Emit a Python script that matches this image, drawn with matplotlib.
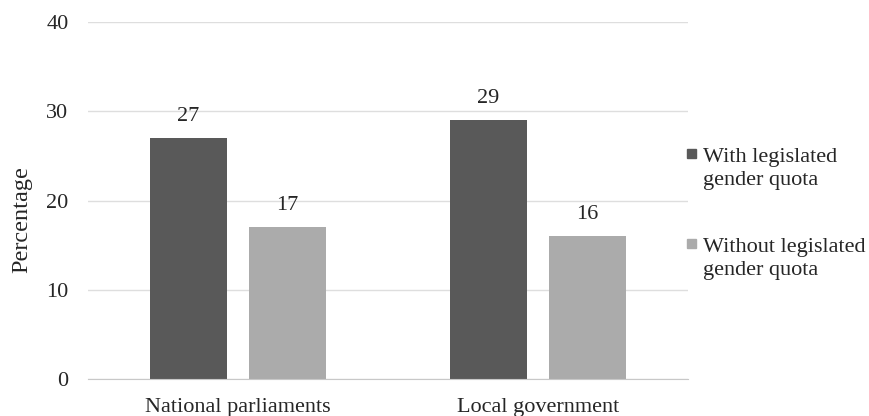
import matplotlib
matplotlib.use("Agg")
import matplotlib.pyplot as plt
import numpy as np
from matplotlib.patches import Rectangle

categories = ["National parliaments", "Local government"]
series_names = ["With legislated\ngender quota", "Without legislated\ngender quota"]
with_quota = [27, 29]
without_quota = [17, 16]
yticks = [0, 10, 20, 30, 40]

colors = ["#595959", "#ababab"]
txt = '#262626'

plt.rcParams['font.family'] = ['Liberation Serif', 'DejaVu Serif']

fig = plt.figure(figsize=(8.69, 4.16), dpi=100)
ax = fig.add_axes([88/869, 1-379/416, 600/869, 357/416])

x = np.arange(len(categories))
w = 0.257
off = 0.165
series = [with_quota, without_quota]
for i, vals in enumerate(series):
    pos = x + (off if i else -off)
    bars = ax.bar(pos, vals, width=w, color=colors[i], zorder=3)
    for b, v in zip(bars, vals):
        ax.annotate(str(v), (b.get_x()+b.get_width()/2, v), xytext=(0, 9),
                    textcoords='offset points', ha='center', va='bottom', fontsize=16,
                    color=txt)

ax.set_xlim(-0.5, 1.5)
ax.set_ylim(0, 40)
ax.set_yticks(yticks)
ax.set_xticks(x)
ax.set_xticklabels(categories, fontsize=16, color=txt)
ax.tick_params(axis='y', labelsize=16, length=0, pad=14, labelcolor=txt)
ax.tick_params(axis='x', length=0, pad=13.5)
ax.grid(axis='y', color='#dedede', linewidth=1, zorder=0)
for s in ['top', 'right', 'left']:
    ax.spines[s].set_visible(False)
ax.spines['bottom'].set_color('#c8c8c8')
ax.spines['bottom'].set_zorder(4)
ax.set_ylabel("Percentage", fontsize=17.5, color=txt)
ax.yaxis.label.set_va('center')
ax.yaxis.set_label_coords((22-88)/600, (379-220)/357)

# legend drawn manually
leg_base = [162, 252]
line_gap = 23.5
for i, name in enumerate(series_names):
    yb = leg_base[i]
    fig.patches.append(Rectangle((687/869, 1 - (yb - 4)/416), 9/869, 9/416,
                                 transform=fig.transFigure, color=colors[i]))
    for j, line in enumerate(name.split("\n")):
        fig.text(703/869, 1 - (yb + j*line_gap)/416, line, fontsize=16,
                 va='baseline', ha='left', color=txt)

fig.savefig("out.png", dpi=100)
